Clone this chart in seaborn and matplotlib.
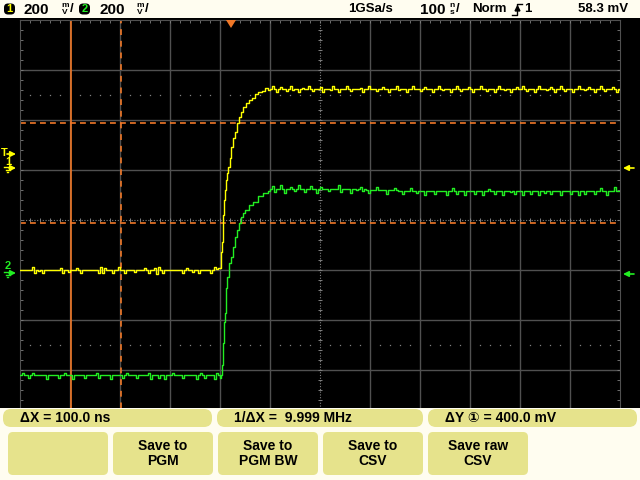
import numpy as np
import pandas as pd
import matplotlib
matplotlib.use("Agg")
import matplotlib.pyplot as plt
import seaborn as sns
from matplotlib.patches import FancyBboxPatch, Rectangle, Polygon

# screen: 100 ns/div x 12 div, 200 mV/div x 8 div (mV relative to screen centre)
t_pre = np.arange(0, 400, 4)
t_post = np.arange(500, 1204, 4)

ch1_pre = [
    -200, -200, -200, -200, -200, -200, -188, -212, -200, -204,
    -200, -212, -200, -200, -200, -200, -200, -200, -200, -200,
    -192, -212, -200, -200, -208, -200, -200, -200, -192, -200,
    -212, -200, -200, -200, -200, -200, -200, -200, -200, -212,
    -188, -212, -192, -200, -200, -200, -212, -200, -200, -188,
    -200, -200, -212, -200, -200, -200, -200, -208, -200, -200,
    -200, -200, -192, -200, -212, -200, -200, -192, -216, -188,
    -200, -212, -200, -200, -200, -200, -200, -200, -200, -200,
    -200, -212, -200, -192, -200, -200, -208, -200, -200, -212,
    -200, -200, -200, -200, -200, -212, -200, -188, -196, -192,
]
ch1_edge_t = [400, 402, 404, 406, 408, 410, 412, 414, 416, 420, 422, 426, 430,
              434, 438, 442, 446, 452, 458, 464, 470, 476, 484, 490, 496]
ch1_edge = [-192, -128, -88, 20, 80, 120, 160, 188, 212, 248, 292, 328, 352,
            388, 412, 432, 452, 468, 480, 488, 504, 512, 516, 528, 520]
ch1_post = [
    524, 536, 524, 512, 524, 532, 524, 524, 516, 524, 536, 520, 524, 524, 512, 524,
    528, 524, 524, 536, 524, 516, 524, 524, 524, 532, 512, 524, 524, 524, 520, 536,
    524, 524, 512, 524, 524, 524, 536, 524, 516, 524, 524, 524, 524, 528, 512, 524,
    524, 536, 524, 524, 524, 516, 524, 524, 532, 524, 524, 512, 524, 524, 524, 536,
    520, 524, 524, 524, 512, 524, 524, 536, 524, 524, 524, 516, 524, 532, 524, 524,
    524, 512, 524, 524, 536, 524, 520, 524, 524, 524, 512, 524, 524, 536, 524, 516,
    524, 524, 524, 532, 524, 512, 524, 524, 524, 536, 524, 524, 516, 524, 524, 524,
    512, 524, 536, 524, 524, 520, 524, 524, 512, 524, 524, 532, 524, 524, 536, 524,
    516, 524, 524, 524, 512, 524, 536, 524, 524, 524, 520, 524, 532, 524, 512, 524,
    524, 536, 524, 516, 524, 524, 524, 512, 524, 524, 536, 524, 524, 520, 524, 532,
    524, 524, 512, 524, 524, 536, 524, 516, 524, 524, 524, 532, 524, 512, 524, 524,
]

ch2_pre = [
    -620, -612, -620, -620, -632, -620, -612, -620, -620, -620,
    -620, -620, -620, -636, -620, -620, -620, -620, -620, -632,
    -620, -620, -612, -620, -620, -620, -636, -620, -620, -620,
    -620, -620, -632, -620, -620, -620, -620, -620, -612, -632,
    -620, -620, -620, -620, -620, -636, -620, -620, -620, -620,
    -620, -632, -620, -612, -620, -620, -620, -620, -632, -620,
    -620, -620, -620, -620, -612, -636, -620, -620, -620, -632,
    -620, -620, -636, -620, -620, -620, -612, -620, -620, -620,
    -620, -632, -620, -620, -620, -620, -620, -620, -636, -620,
    -612, -620, -632, -620, -620, -620, -620, -636, -612, -620,
]
ch2_edge_t = [400, 402, 404, 406, 408, 410, 412, 414, 418, 422, 426, 430, 434,
              438, 442, 446, 450, 458, 466, 476, 486, 496]
ch2_edge = [-632, -620, -580, -492, -408, -372, -272, -228, -172, -148, -108, -68,
            -40, -12, 12, 28, 40, 60, 72, 96, 108, 116]
ch2_post = [
    124, 136, 112, 124, 124, 140, 124, 108, 124, 124, 132, 124, 116, 124, 140, 124,
    124, 112, 124, 124, 136, 124, 124, 108, 124, 132, 124, 124, 124, 116, 124, 124,
    124, 124, 140, 112, 124, 124, 124, 124, 108, 124, 124, 120, 124, 132, 116, 124,
    120, 108, 120, 120, 120, 132, 120, 120, 120, 120, 104, 120, 120, 120, 128, 120,
    116, 116, 104, 116, 116, 116, 128, 116, 116, 108, 116, 116, 116, 100, 116, 116,
    116, 116, 104, 116, 116, 116, 116, 116, 100, 116, 116, 128, 116, 104, 116, 116,
    116, 100, 116, 116, 116, 116, 104, 116, 116, 116, 100, 116, 116, 124, 116, 116,
    104, 116, 116, 116, 100, 116, 116, 116, 112, 116, 104, 116, 116, 116, 100, 116,
    116, 116, 104, 116, 116, 116, 100, 116, 116, 108, 116, 116, 104, 116, 116, 116,
    116, 100, 116, 116, 116, 116, 104, 116, 116, 116, 100, 116, 116, 104, 116, 116,
    116, 116, 104, 116, 116, 128, 116, 116, 100, 116, 116, 116, 132, 116, 116, 116,
]

cursor_x = [102, 202]      # ns
cursor_y = [-12, 388]      # mV

softkeys = ["", "Save to\nPGM", "Save to\nPGM BW", "Save to\nCSV", "Save raw\nCSV"]
readouts = ["ΔX = 100.0 ns", "1/ΔX =  9.999 MHz", "ΔY ① = 400.0 mV"]

YEL = "#ffff00"
GRN = "#22ee22"
ORG = "#f07828"
GRID = "#505050"
KEY = "#e6e38c"
CREAM = "#fffdf0"
FONT = ["Liberation Sans", "DejaVu Sans", "Noto Sans CJK SC"]

df = pd.concat([
    pd.DataFrame({"t": np.concatenate([t_pre, ch1_edge_t, t_post]),
                  "v": np.concatenate([ch1_pre, ch1_edge, ch1_post]), "ch": "1"}),
    pd.DataFrame({"t": np.concatenate([t_pre, ch2_edge_t, t_post]),
                  "v": np.concatenate([ch2_pre, ch2_edge, ch2_post]), "ch": "2"}),
])

plt.rcParams["font.family"] = FONT
fig = plt.figure(figsize=(6.4, 4.8), dpi=100, facecolor="black")
ax = fig.add_axes([20 / 640, 60 / 480, 600 / 640, 400 / 480], facecolor="black")
ax.set_xlim(0, 1200)
ax.set_ylim(-800, 800)

# graticule
for t in range(100, 1200, 100):
    if t == 600:
        ax.axvline(t, color="#808080", lw=0.8, ls=(0, (1, 1.5)), zorder=1)
    else:
        ax.axvline(t, color=GRID, lw=1, zorder=1)
for v in range(-600, 800, 200):
    if v == 0:
        ax.axhline(v, color="#808080", lw=0.8, ls=(0, (1, 1.5)), zorder=1)
    else:
        ax.axhline(v, color=GRID, lw=1, zorder=1)
ticks_t = np.arange(20, 1200, 20)
ticks_v = np.arange(-760, 800, 40)
ax.plot(ticks_t, np.zeros_like(ticks_t), ls="none", marker="|", ms=3, color="#808080", mew=0.7)
ax.plot(np.full_like(ticks_v, 600), ticks_v, ls="none", marker="_", ms=3, color="#808080", mew=0.7)
dots_t = ticks_t[ticks_t % 100 != 0]
for lvl in (500, -500):
    ax.plot(dots_t, np.full_like(dots_t, lvl), ls="none", marker="s", ms=0.9, color="#808080", mew=0)

for s in ax.spines.values():
    s.set_color(GRID)
ax.set_xticks([])
ax.set_yticks([])
ax.set_xticks(ticks_t, minor=True)
ax.set_yticks(ticks_v, minor=True)
ax.tick_params(which="minor", direction="in", length=2, color="#808080",
               left=True, right=True, top=True, bottom=False,
               labelleft=False, labelbottom=False)

# cursors
ax.axvline(cursor_x[0], color=ORG, lw=1.2, zorder=2)
ax.axvline(cursor_x[1], color=ORG, lw=1.2, ls=(0, (3.5, 3.5)), zorder=2)
for v in cursor_y:
    ax.axhline(v, color=ORG, lw=1.2, ls=(0, (3.5, 2.5)), zorder=2)

sns.lineplot(data=df, x="t", y="v", hue="ch", palette={"1": YEL, "2": GRN},
             estimator=None, drawstyle="steps-post", lw=1.0, legend=False, ax=ax, zorder=3)
ax.set_xlabel("")
ax.set_ylabel("")

# --- instrument chrome (pixel coordinates) ---
ov = fig.add_axes([0, 0, 1, 1])
ov.set_xlim(0, 640)
ov.set_ylim(480, 0)
ov.axis("off")
ov.set_zorder(5)

ov.add_patch(Rectangle((0, 0), 640, 18, color=CREAM, lw=0))
txt = dict(fontsize=9.5, fontweight="bold", color="black", va="center")
big = dict(fontsize=11, fontweight="bold", color="black", va="center")
small = dict(fontsize=6, fontweight="bold", color="black", ha="center", va="center")
for x0, num, col in [(4, "1", YEL), (79, "2", GRN)]:
    ov.add_patch(FancyBboxPatch((x0, 3.5), 11, 11, boxstyle="round,pad=0,rounding_size=4",
                                fc="black", ec="none"))
    ov.text(x0 + 5.5, 9.5, num, fontsize=8, fontweight="bold", color=col, ha="center", va="center")
    ov.text(x0 + 20, 9.5, "200", **big)
    ov.text(x0 + 61, 5.5, "m", **small)
    ov.text(x0 + 61, 13, "V", **small)
    ov.text(x0 + 66, 9.5, "/", **txt)
ov.text(348, 9.5, "1GSa/s", **txt)
ov.text(420, 9.5, "100", **big)
ov.text(452, 5.5, "n", **small)
ov.text(452, 13, "s", **small)
ov.text(456, 9.5, "/", **txt)
ov.text(472, 9.5, "Norm", **txt)
ov.plot([512, 517, 517, 522], [15, 15, 4, 4], color="black", lw=1)
ov.plot([517], [8], marker="^", ms=3.5, color="black")
ov.text(524, 9.5, "1", **txt)
ov.text(578, 9.5, "58.3 mV", **txt)

# trigger position marker
ov.add_patch(Polygon([(226, 20), (236, 20), (231, 28)], color=ORG, lw=0))

# left / right reference markers
def arrow(y, x0, x1, col):
    ov.annotate("", xy=(x1, y), xytext=(x0, y),
                arrowprops=dict(arrowstyle="-|>", color=col, lw=1.2, mutation_scale=8,
                                shrinkA=0, shrinkB=0))

ov.text(1, 153, "T", fontsize=8, fontweight="bold", color=YEL, va="center")
arrow(154, 7, 16, YEL)
for y_num, y_gnd, num, col in [(162, 168, "1", YEL), (266, 273, "2", GRN)]:
    ov.text(5, y_num, num, fontsize=8, fontweight="bold", color=col, va="center")
    ov.plot([4, 11], [y_gnd - 1, y_gnd - 1], color=col, lw=1)
    ov.plot([5.5, 9.5], [y_gnd + 1.5, y_gnd + 1.5], color=col, lw=1)
    ov.plot([7, 8], [y_gnd + 4, y_gnd + 4], color=col, lw=1)
    arrow(y_gnd, 9, 16, col)
arrow(168, 634, 623, YEL)
arrow(274, 634, 623, GRN)

# bottom panel
ov.add_patch(Rectangle((0, 408), 640, 72, color=CREAM, lw=0))
for (x0, x1), label in zip([(3, 212), (217, 423), (428, 637)], readouts):
    ov.add_patch(FancyBboxPatch((x0, 409), x1 - x0, 18, boxstyle="round,pad=0,rounding_size=8",
                                fc=KEY, ec="none"))
    ov.text(x0 + 17, 418, label, fontsize=10, fontweight="bold", color="black", va="center")
for i, label in enumerate(softkeys):
    x0 = 8 + i * 105
    ov.add_patch(FancyBboxPatch((x0, 432), 100, 43, boxstyle="round,pad=0,rounding_size=5",
                                fc=KEY, ec="none"))
    if label:
        ov.text(x0 + 50, 453.5, label, fontsize=10, fontweight="bold", color="black",
                ha="center", va="center", linespacing=1.05)

fig.savefig("out.png", dpi=100, facecolor=fig.get_facecolor())
